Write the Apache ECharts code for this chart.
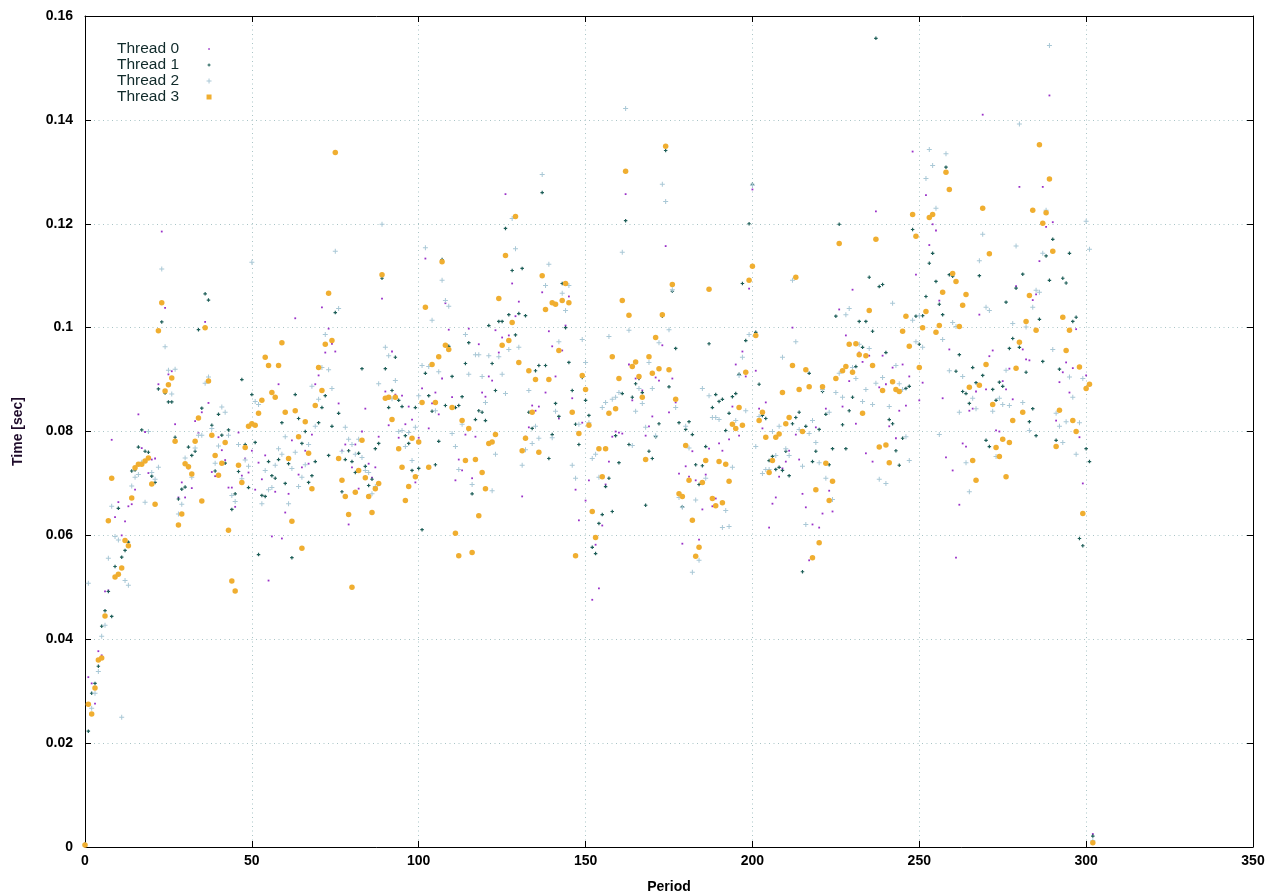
<!DOCTYPE html>
<html><head><meta charset="utf-8">
<script src="https://cdn.jsdelivr.net/npm/echarts@6/dist/echarts.min.js"></script>
<style>html,body{margin:0;padding:0;background:#fff}#c{width:1280px;height:896px}</style>
</head><body><div id="c"></div>
<script>
const threadNames = ['Thread 0', 'Thread 1', 'Thread 2', 'Thread 3'];
const xTickLabels = [0, 50, 100, 150, 200, 250, 300, 350];
const yTickLabels = [0, 0.02, 0.04, 0.06, 0.08, 0.1, 0.12, 0.14, 0.16];

const thread0 = [
0.0005,0.0327,0.0315,0.0276,0.0377,0.0369,0.0492,0.0494,0.0784,0.0635,
0.0664,0.06,0.0627,0.0656,0.066,0.0688,0.0833,0.0768,0.0799,0.072,
0.0746,0.0748,0.0891,0.1185,0.1038,0.091,0.0916,0.0814,0.0673,0.0702,
0.0673,0.0729,0.0691,0.082,0.0797,0.0837,0.1011,0.0855,0.0722,0.0714,
0.0789,0.0764,0.0745,0.0692,0.0692,0.0655,0.0798,0.0715,0.0748,0.0721,
0.0763,0.0688,0.074,0.0708,0.0754,0.0513,0.0598,0.0684,0.0891,0.0594,
0.0644,0.068,0.0783,0.1018,0.0717,0.0731,0.0763,0.0738,0.0794,0.0891,
0.0908,0.1039,0.0952,0.0998,0.0969,0.0954,0.0854,0.0763,0.0775,0.0621,
0.0731,0.0775,0.069,0.08,0.0844,0.0738,0.0711,0.0731,0.079,0.1056,
0.0877,0.0812,0.0954,0.0871,0.0788,0.0869,0.0814,0.0848,0.0823,0.0702,
0.0788,0.0883,0.1133,0.0806,0.0854,0.0875,0.0833,0.0902,0.1047,0.0996,
0.0866,0.0706,0.0746,0.0725,0.0794,0.0998,0.071,0.079,0.0968,0.0875,
0.0867,0.0906,0.0898,0.0995,0.0952,0.0981,0.1257,0.0985,0.1085,0.1022,
0.105,0.0675,0.079,0.0808,0.085,0.084,0.0848,0.1068,0.0875,0.0993,
0.0964,0.0906,0.0825,0.0956,0.1004,0.106,0.0864,0.0688,0.0629,0.0817,
0.0667,0.0706,0.0476,0.0582,0.0498,0.0619,0.0698,0.0742,0.079,0.08,
0.0798,0.0796,0.1257,0.0929,0.086,0.0902,0.0902,0.0879,0.0792,0.081,
0.0829,0.0904,0.0898,0.0966,0.1157,0.0837,0.0902,0.0856,0.0719,0.0584,
0.0733,0.0713,0.0762,0.0706,0.0592,0.065,0.0717,0.0767,0.0656,0.0671,
0.0777,0.0763,0.0735,0.0785,0.0848,0.0929,0.0792,0.0954,0.0906,0.1075,
0.1266,0.0917,0.0844,0.0806,0.0856,0.0615,0.0661,0.0673,0.0713,0.0729,
0.0742,0.0763,0.1,0.0794,0.0746,0.068,0.0654,0.0552,0.0621,0.0808,
0.0615,0.0642,0.0844,0.0686,0.0646,0.0904,0.1035,0.0848,0.0985,0.0897,
0.1073,0.0815,0.0952,0.0934,0.0758,0.0946,0.0742,0.1224,0.0885,0.0946,
0.0891,0.081,0.0923,0.0787,0.084,0.0929,0.085,0.0906,0.1339,0.1102,
0.086,0.0894,0.1255,0.1159,0.1199,0.1187,0.1052,0.0864,0.075,0.0958,
0.0725,0.0557,0.0659,0.0777,0.0771,0.084,0.0844,0.0877,0.1025,0.141,
0.0881,0.0945,0.0956,0.0802,0.08,0.0897,0.0881,0.0921,0.0862,0.108,
0.1271,0.0958,0.0939,0.0937,0.1053,0.1064,0.1128,0.1271,0.1194,0.1447,
0.1203,0.0821,0.0895,0.0914,0.0933,0.0875,0.0922,0.0997,0.0789,0.07,
0.0908,0.0889,0.0025
];

const thread1 = [
0.0006,0.0223,0.0296,0.0315,0.0348,0.0425,0.0455,0.0492,0.0444,0.054,
0.0652,0.0558,0.0571,0.0587,0.0724,0.0726,0.077,0.0803,0.0762,0.076,
0.0714,0.0702,0.0882,0.1011,0.0874,0.0857,0.0857,0.0789,0.067,0.0689,
0.0693,0.077,0.0754,0.0762,0.0996,0.0845,0.1065,0.1053,0.0812,0.0724,
0.0833,0.0793,0.0739,0.0803,0.065,0.068,0.0723,0.09,0.0775,0.0692,
0.0871,0.0779,0.0563,0.0677,0.0675,0.0742,0.0715,0.071,0.0746,0.0817,
0.07,0.0738,0.0557,0.0871,0.0825,0.0777,0.08,0.0702,0.0715,0.0742,
0.0817,0.0846,0.0869,0.0754,0.081,0.1029,0.0835,0.0684,0.0746,0.0763,
0.0742,0.0721,0.0758,0.0921,0.0733,0.0696,0.0708,0.0767,0.0777,0.1095,
0.0921,0.0846,0.0879,0.0943,0.086,0.0848,0.0792,0.0777,0.0725,0.0846,
0.0729,0.0611,0.0912,0.0869,0.0839,0.0736,0.0781,0.1131,0.085,0.0964,
0.0906,0.0846,0.085,0.0867,0.0931,0.0971,0.068,0.0823,0.084,0.0837,
0.0821,0.1004,0.0931,0.0879,0.1012,0.1012,0.1191,0.1025,0.111,0.0986,
0.1027,0.1114,0.1023,0.0837,0.0806,0.0917,0.0927,0.126,0.0927,0.0748,
0.0794,0.0854,0.0829,0.1085,0.1,0.0933,0.0879,0.0814,0.0775,0.0904,
0.086,0.0831,0.0577,0.0565,0.0623,0.064,0.0694,0.071,0.0646,0.0792,
0.074,0.0873,0.1206,0.0775,0.0866,0.0892,0.0902,0.0875,0.0658,0.0762,
0.0748,0.079,0.0815,0.1022,0.1341,0.0886,0.107,0.096,0.0817,0.0655,
0.0804,0.0819,0.0794,0.0736,0.0698,0.0734,0.0771,0.0969,0.0846,0.0871,
0.0858,0.0862,0.0802,0.0835,0.0867,0.0873,0.091,0.1085,0.0975,0.12,
0.1276,0.0991,0.0891,0.0831,0.0825,0.0744,0.0752,0.0727,0.0731,0.0725,
0.0762,0.0715,0.0815,0.0827,0.0837,0.053,0.081,0.0912,0.0742,0.0762,
0.0804,0.0877,0.0833,0.0736,0.0767,0.1022,0.1199,0.0813,0.0767,0.084,
0.0866,0.0925,0.1012,0.0962,0.1012,0.1097,0.0993,0.1557,0.1079,0.1083,
0.0952,0.0823,0.0815,0.0763,0.0735,0.0787,0.0883,0.0887,0.1189,0.1022,
0.0968,0.1023,0.106,0.1124,0.1143,0.1089,0.1045,0.1025,0.1309,0.1102,
0.1099,0.0916,0.0948,0.0877,0.0873,0.0854,0.0923,0.0894,0.11,0.0908,
0.0783,0.0771,0.0881,0.086,0.0895,0.0887,0.1049,0.096,0.0979,0.1076,
0.0962,0.1103,0.0914,0.0819,0.0844,0.0792,0.1016,0.0935,0.1138,0.1091,
0.117,0.0783,0.092,0.1095,0.1086,0.1143,0.1012,0.102,0.0594,0.058,
0.0767,0.0742,0.0021
];

const thread2 = [
0.0004,0.0508,0.0267,0.0296,0.0338,0.0406,0.0427,0.0556,0.0656,0.0598,
0.0591,0.025,0.0513,0.0504,0.0695,0.0712,0.0717,0.0741,0.0664,0.08,
0.0721,0.0708,0.0731,0.1113,0.0963,0.0918,0.0872,0.092,0.0641,0.066,
0.0749,0.0733,0.0712,0.0768,0.0793,0.0793,0.0893,0.0905,0.0806,0.0739,
0.0772,0.0847,0.0837,0.0793,0.0677,0.0665,0.0775,0.0709,0.0745,0.0733,
0.1126,0.0858,0.0852,0.0661,0.0725,0.0688,0.0692,0.0735,0.0767,0.0756,
0.079,0.0661,0.0729,0.076,0.0694,0.0712,0.0736,0.0775,0.0887,0.081,
0.0862,0.0923,0.0987,0.0919,0.0883,0.1147,0.1037,0.0762,0.0808,0.0785,
0.0775,0.0756,0.0785,0.075,0.0725,0.0721,0.068,0.0694,0.0892,0.1199,
0.0962,0.0946,0.0863,0.0898,0.08,0.0802,0.0771,0.0798,0.0744,0.0808,
0.0869,0.0927,0.1154,0.0925,0.1014,0.084,0.0915,0.1091,0.1052,0.1041,
0.0796,0.0771,0.0727,0.0814,0.0987,0.091,0.0698,0.0948,0.0948,0.0906,
0.0856,0.0946,0.0686,0.0756,0.0944,0.091,0.0873,0.0958,0.121,0.1152,
0.0962,0.0735,0.0765,0.0879,0.0777,0.081,0.0787,0.1295,0.1081,0.1122,
0.0788,0.0839,0.0973,0.1066,0.1033,0.1081,0.0735,0.071,0.0814,0.0977,
0.0933,0.0817,0.0748,0.0756,0.0712,0.0846,0.0856,0.0983,0.0862,0.0866,
0.0875,0.1145,0.1422,0.0995,0.0773,0.0839,0.0883,0.0854,0.0808,0.0933,
0.0883,0.0792,0.0971,0.1276,0.1243,0.0996,0.1073,0.0846,0.0673,0.0654,
0.081,0.0768,0.0529,0.0668,0.0552,0.0883,0.071,0.0869,0.0827,0.0827,
0.0823,0.0615,0.0648,0.0617,0.0731,0.0821,0.0908,0.0943,0.084,0.0987,
0.1274,0.0771,0.0829,0.0719,0.0727,0.0727,0.08,0.0754,0.081,0.0943,
0.0767,0.0754,0.1091,0.0973,0.0804,0.0733,0.0621,0.0796,0.0821,0.0779,
0.074,0.0881,0.071,0.0837,0.0669,0.0875,0.0912,0.0866,0.1025,0.1037,
0.0923,0.0902,0.0968,0.0858,0.0881,0.096,0.0852,0.0893,0.0708,0.0904,
0.07,0.0848,0.1047,0.0927,0.0892,0.0881,0.079,0.0744,0.1014,0.0973,
0.1023,0.0962,0.1287,0.1343,0.1312,0.123,0.0794,0.0977,0.1335,0.0917,
0.101,0.1002,0.0837,0.0906,0.074,0.0684,0.0864,0.0844,0.1129,0.118,
0.1039,0.1033,0.0839,0.0752,0.0864,0.0852,0.0918,0.085,0.1008,0.1157,
0.1392,0.0856,0.1001,0.0802,0.1039,0.1072,0.1068,0.1143,0.1226,0.1543,
0.0958,0.0835,0.081,0.0779,0.0819,0.0905,0.0866,0.0756,0.0817,0.0902,
0.1205,0.1151,0.0012
];

const thread3 = [
0.0004,0.0275,0.0256,0.0306,0.036,0.0364,0.0445,0.0628,0.071,0.052,
0.0525,0.0537,0.059,0.058,0.0672,0.073,0.0737,0.0737,0.0743,0.0749,
0.0699,0.066,0.0994,0.1048,0.0878,0.089,0.0903,0.0781,0.062,0.0641,
0.0738,0.0732,0.0718,0.0781,0.0826,0.0666,0.1,0.0897,0.0793,0.0754,
0.0716,0.0739,0.0779,0.061,0.0512,0.0493,0.0735,0.0702,0.0769,0.081,
0.0815,0.0812,0.0835,0.086,0.0943,0.0927,0.0875,0.0866,0.0927,0.0971,
0.0837,0.0748,0.0627,0.084,0.079,0.0575,0.0819,0.0758,0.069,0.085,
0.0923,0.0879,0.0968,0.1066,0.0975,0.1337,0.0748,0.0706,0.0675,0.064,
0.05,0.0683,0.0725,0.0783,0.0711,0.0675,0.0644,0.069,0.07,0.1102,
0.0864,0.0866,0.0823,0.0866,0.0767,0.0731,0.0667,0.0694,0.0787,0.0713,
0.078,0.0856,0.1039,0.0731,0.0929,0.0856,0.0944,0.1127,0.0966,0.0958,
0.0846,0.0604,0.0561,0.0821,0.0744,0.0806,0.0567,0.0746,0.0638,0.0721,
0.069,0.0777,0.078,0.0794,0.1056,0.0966,0.1139,0.0975,0.101,0.1214,
0.0933,0.0763,0.0787,0.0917,0.0837,0.09,0.076,0.11,0.1035,0.09,
0.1048,0.1045,0.0956,0.1052,0.1085,0.1048,0.0837,0.0561,0.0796,0.0908,
0.0881,0.0812,0.0646,0.0596,0.0767,0.0713,0.0767,0.0835,0.0944,0.0844,
0.0902,0.1052,0.1301,0.1024,0.0925,0.0934,0.0906,0.0866,0.0746,0.0944,
0.0912,0.0981,0.0921,0.1025,0.1349,0.0919,0.1083,0.0862,0.068,0.0675,
0.0773,0.0706,0.0629,0.056,0.0577,0.0702,0.0744,0.1074,0.0671,0.0657,
0.0742,0.0663,0.0737,0.0704,0.0814,0.0806,0.0846,0.0812,0.0914,0.1091,
0.1118,0.0985,0.0821,0.0837,0.0789,0.0721,0.0744,0.0789,0.0795,0.0875,
0.0815,0.0827,0.0927,0.1097,0.0881,0.08,0.0919,0.0886,0.0557,0.0688,
0.0586,0.0886,0.0739,0.0667,0.0704,0.0902,0.1162,0.0917,0.0925,0.0968,
0.0914,0.0969,0.0948,0.0835,0.0946,0.1033,0.0927,0.117,0.077,0.0879,
0.0774,0.074,0.0896,0.0881,0.0877,0.0993,0.1022,0.0964,0.1218,0.1176,
0.0923,0.1,0.1031,0.1212,0.1218,0.0991,0.1004,0.1068,0.1299,0.1266,
0.1104,0.1089,0.1002,0.1043,0.1064,0.0885,0.0744,0.0706,0.0889,0.123,
0.0929,0.1142,0.0852,0.0769,0.0752,0.0785,0.0713,0.0779,0.0821,0.0922,
0.0972,0.0837,0.1012,0.1062,0.1226,0.0995,0.1352,0.1201,0.1221,0.1286,
0.1147,0.0771,0.0841,0.102,0.0956,0.0995,0.0821,0.08,0.0924,0.0642,
0.0883,0.0891,0.0008
];

const threads = [thread0, thread1, thread2, thread3];
const colors = ['#9a30c8', '#1d5e58', '#a9c8d6', '#f0ae30'];
const plusSmall = 'path://M1,0H2V1H3V2H2V3H1V2H0V1H1Z';
const plusThin = 'path://M2,0H3V2H5V3H3V5H2V3H0V2H2Z';
const symbols = ['rect', plusSmall, plusThin, 'circle'];
const sizes = [1.8, 3.5, 5, 5.5];
const legendIcons = [
  'path://M0,0M8,8M3.2,3.2H4.8V4.8H3.2Z',
  'path://M0,0M8,8M3.5,2.5H4.5V3.5H5.5V4.5H4.5V5.5H3.5V4.5H2.5V3.5H3.5Z',
  'path://M0,0M8,8M3.5,1.5H4.5V3.5H6.5V4.5H4.5V6.5H3.5V4.5H1.5V3.5H3.5Z',
  'path://M0,0M8,8M1.5,1.5H6.5V6.5H1.5Z'
];

const FONT = '"Liberation Sans", Arial, Helvetica, sans-serif';
const gridColor = '#a9c4c6';

function axisBase(extra) {
  return Object.assign({
    type: 'value',
    axisLine: { show: true, onZero: false, lineStyle: { color: '#000', width: 1 } },
    axisTick: { show: true, inside: true, length: 6, lineStyle: { color: '#000', width: 1 } },
    splitLine: { show: false },
    axisLabel: { show: false }
  }, extra);
}

const xMin = xTickLabels[0], xMax = xTickLabels[xTickLabels.length - 1];
const yMin = yTickLabels[0], yMax = yTickLabels[yTickLabels.length - 1];

const option = {
  animation: false,
  backgroundColor: '#fff',
  grid: { left: 85, right: 27, top: 16, bottom: 49, containLabel: false, outerBoundsMode: 'none' },
  legend: {
    orient: 'vertical',
    left: 112, top: 36,
    align: 'right',
    itemWidth: 8, itemHeight: 8, itemGap: 0,
    selectedMode: false,
    textStyle: { fontSize: 15.5, fontFamily: FONT, color: '#102a2a', lineHeight: 16, padding: [0, 21, 0, 0] },
    data: threadNames.map((n, i) => ({ name: n, icon: legendIcons[i] }))
  },
  xAxis: [
    axisBase({
      position: 'bottom', min: xMin, max: xMax, interval: 50,
      axisLabel: { show: true, color: '#000', fontSize: 14, fontWeight: 'bold', fontFamily: FONT, margin: 7 },
      splitLine: { show: true, lineStyle: { color: gridColor, width: 1, type: [1, 3.5] } },
      name: 'Period', nameLocation: 'middle', nameGap: 33,
      nameTextStyle: { color: '#000', fontSize: 14, fontWeight: 'bold', fontFamily: FONT }
    }),
    axisBase({ position: 'top', min: xMin, max: xMax, interval: 50 })
  ],
  yAxis: [
    axisBase({
      position: 'left', min: yMin, max: yMax, interval: 0.02,
      axisLabel: { show: true, color: '#000', fontSize: 14, fontWeight: 'bold', fontFamily: FONT, margin: 12,
        formatter: v => String(+v.toFixed(2)) },
      splitLine: { show: true, lineStyle: { color: gridColor, width: 1, type: [1, 3.5] } },
      name: 'Time [sec]', nameLocation: 'middle', nameGap: 60, nameRotate: 90,
      nameTextStyle: { color: '#1e0a2a', fontSize: 14, fontWeight: 'bold', fontFamily: FONT }
    }),
    axisBase({ position: 'right', min: yMin, max: yMax, interval: 0.02 })
  ],
  series: threads.map((arr, i) => ({
    name: threadNames[i],
    type: 'scatter',
    xAxisIndex: 0, yAxisIndex: 0,
    symbol: symbols[i],
    symbolSize: sizes[i],
    itemStyle: { color: colors[i], opacity: 1 },
    emphasis: { disabled: true },
    silent: true,
    z: 2 + i,
    data: arr.map((v, k) => [k, v])
  }))
};

const chart = echarts.init(document.getElementById('c'), null, { renderer: 'canvas' });
chart.setOption(option);
</script>
</body></html>
